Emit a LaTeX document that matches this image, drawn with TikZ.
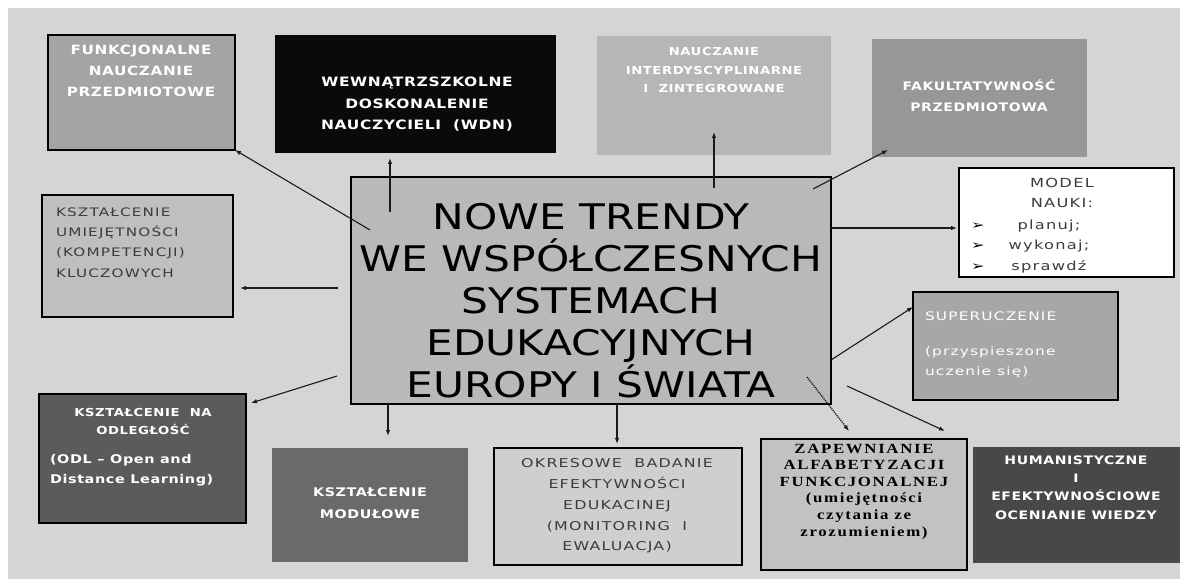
\documentclass[tikz,border=0pt]{standalone}
\usepackage{fontspec}
\usetikzlibrary{calc,arrows.meta}
\setmainfont{DejaVu Sans}
\newfontfamily\ttlfont[FakeStretch=1.2]{DejaVu Sans}
\newfontfamily\bwfont[FakeStretch=1.2,LetterSpace=5]{DejaVu Sans}
\newfontfamily\gwfont[FakeStretch=1.3,LetterSpace=10]{DejaVu Sans}
\newfontfamily\zapfont[FakeStretch=1.2,LetterSpace=12]{Liberation Serif}
\definecolor{bgc}{HTML}{D5D5D5}
\definecolor{cfun}{HTML}{A4A4A4}
\definecolor{cwdn}{HTML}{0A0A0A}
\definecolor{cint}{HTML}{B6B6B6}
\definecolor{cfak}{HTML}{979797}
\definecolor{ckum}{HTML}{BFBFBF}
\definecolor{ccen}{HTML}{B9B9B9}
\definecolor{csup}{HTML}{A7A7A7}
\definecolor{codl}{HTML}{5B5B5B}
\definecolor{cmdl}{HTML}{6A6A6A}
\definecolor{cokr}{HTML}{CFCFCF}
\definecolor{czap}{HTML}{C2C2C2}
\definecolor{chum}{HTML}{484848}
\definecolor{dtxt}{HTML}{3C3C3C}
\definecolor{lnc}{HTML}{1A1A1A}
\tikzset{
  box/.style={anchor=north west, inner sep=0pt, outer sep=0pt, line width=1.2pt},
  bordered/.style={draw=black},
  txt/.style={inner sep=0pt, outer sep=0pt, align=center},
  arr/.style={draw=lnc, line width=1.1pt, -{Latex[length=6pt,width=4.5pt]}},
}
\begin{document}
\begin{tikzpicture}[x=1pt,y=-1pt]
\useasboundingbox (0,0) rectangle (1180,585);
\fill[bgc] (8,8) rectangle (1180,579);

% boxes
\node[box, bordered, fill=cfun, minimum width=187pt, minimum height=115pt] (fun) at (48,35) {};
\node[box, fill=cwdn, minimum width=281pt, minimum height=118pt] (wdn) at (275,35) {};
\node[box, fill=cint, minimum width=234pt, minimum height=119pt] (int) at (597,36) {};
\node[box, fill=cfak, minimum width=215pt, minimum height=118pt] (fak) at (872,39) {};
\node[box, bordered, fill=white, minimum width=215pt, minimum height=109pt] (mod) at (959,168) {};
\node[box, bordered, fill=ckum, minimum width=191pt, minimum height=122pt] (kum) at (42,195) {};
\node[box, bordered, fill=ccen, line width=1.4pt, minimum width=480pt, minimum height=227pt] (cen) at (351,177) {};
\node[box, bordered, fill=csup, minimum width=205pt, minimum height=108pt] (sup) at (913,292) {};
\node[box, bordered, fill=codl, minimum width=207pt, minimum height=129pt] (odl) at (39,394) {};
\node[box, fill=cmdl, minimum width=196pt, minimum height=114pt] (mdl) at (272,448) {};
\node[box, bordered, fill=cokr, minimum width=248pt, minimum height=117pt] (okr) at (494,448) {};
\node[box, bordered, fill=czap, minimum width=206pt, minimum height=131pt] (zap) at (761,439) {};
\node[box, fill=chum, minimum width=207pt, minimum height=116pt] (hum) at (973,447) {};

% texts
\node[txt, text=white, font=\bwfont\bfseries\fontsize{12.7}{21}\selectfont] (tfun) at (141,71)
  {FUNKCJONALNE\\NAUCZANIE\\PRZEDMIOTOWE};
\node[txt, text=white, font=\bwfont\bfseries\fontsize{12.9}{21.5}\selectfont] (twdn) at (417,104.5)
  {WEWNĄTRZSZKOLNE\\DOSKONALENIE\\NAUCZYCIELI~~(WDN)};
\node[txt, text=white, font=\bwfont\bfseries\fontsize{11}{18.5}\selectfont] (tint) at (714,70)
  {NAUCZANIE\\INTERDYSCYPLINARNE\\I~~ZINTEGROWANE};
\node[txt, text=white, font=\bwfont\bfseries\fontsize{11.7}{21}\selectfont] (tfak) at (979,95.5)
  {FAKULTATYWNOŚĆ\\PRZEDMIOTOWA};
\node[txt, text=dtxt, font=\gwfont\fontsize{12.5}{20}\selectfont] (tmod) at (1062,193)
  {MODEL\\NAUKI:};
\node[txt, text=dtxt, anchor=west, font=\gwfont\fontsize{12.5}{20.5}\selectfont] (tlst) at (971,245.5)
  {\begin{tabular}{@{}l@{\hspace{24pt}}c@{}}{\color{black}➢} & planuj;\\ {\color{black}➢} & wykonaj;\\ {\color{black}➢} & sprawdź\end{tabular}};
\node[txt, text=dtxt, anchor=west, align=left, font=\gwfont\fontsize{11.7}{20.3}\selectfont] (tkum) at (56,242.5)
  {KSZTAŁCENIE\\UMIEJĘTNOŚCI\\(KOMPETENCJI)\\KLUCZOWYCH};
\node[txt, text=black, font=\ttlfont\fontsize{35.3}{42}\selectfont] (tcen) at (591,301)
  {NOWE TRENDY\\WE WSPÓŁCZESNYCH\\SYSTEMACH\\EDUKACYJNYCH\\EUROPY I ŚWIATA};
\node[txt, text=white, anchor=west, align=left, font=\gwfont\fontsize{11.8}{20}\selectfont] (tsup) at (925,344.5)
  {SUPERUCZENIE\\[15pt](przyspieszone\\uczenie się)};
\node[txt, text=white, font=\bwfont\bfseries\fontsize{11}{18}\selectfont] (todla) at (143,421)
  {KSZTAŁCENIE~~NA\\ODLEGŁOŚĆ};
\node[txt, text=white, anchor=west, align=left, font=\bwfont\bfseries\fontsize{12}{20}\selectfont] (todlb) at (50,470)
  {(ODL – Open and\\Distance Learning)};
\node[txt, text=white, font=\bwfont\bfseries\fontsize{11.9}{22}\selectfont] (tmdl) at (370,503)
  {KSZTAŁCENIE\\MODUŁOWE};
\node[txt, text=dtxt, font=\gwfont\fontsize{12.2}{20.75}\selectfont] (tokr) at (617,506)
  {OKRESOWE~~BADANIE\\EFEKTYWNOŚCI\\EDUKACINEJ\\(MONITORING~~I\\EWALUACJA)};
\node[txt, text=black, font=\zapfont\bfseries\fontsize{14}{16.6}\selectfont] (tzap) at (864,491.5)
  {ZAPEWNIANIE\\ALFABETYZACJI\\FUNKCJONALNEJ\\(umiejętności\\czytania ze\\zrozumieniem)};
\node[txt, text=white, font=\bwfont\bfseries\fontsize{11.7}{18.3}\selectfont] (thum) at (1076,487.5)
  {HUMANISTYCZNE\\I\\EFEKTYWNOŚCIOWE\\OCENIANIE WIEDZY};

% connector start points
\coordinate (s1) at ($(cen.north west)+(19,53)$);
\coordinate (s2) at ($(cen.north west)+(39,35)$);
\coordinate (s3) at ($(cen.north west)+(363,11)$);
\coordinate (s4) at ($(cen.north east)+(-18,12)$);
\coordinate (s5) at ($(cen.north east)+(0,51)$);
\coordinate (s6) at ($(cen.north west)+(-13,111)$);
\coordinate (s7) at ($(cen.north east)+(0,183)$);
\coordinate (s8) at ($(cen.south west)+(-14,-28)$);
\coordinate (s9) at ($(cen.south west)+(37,0)$);
\coordinate (s10) at ($(cen.south west)+(266,0)$);
\coordinate (s11) at ($(cen.south east)+(-24,-27)$);
\coordinate (s12) at ($(cen.south east)+(16,-18)$);

% connectors
\draw[arr] (s1) -- (fun.south east);
\draw[arr, shorten >=5pt] (s2) -- (s2 |- wdn.south);
\draw[arr, shorten >=-23pt] (s3) -- (s3 |- int.south);
\draw[arr] (s4) -- ($(fak.south west)+(16,-7)$);
\draw[arr, shorten >=2pt] (s5) -- (s5 -| mod.west);
\draw[arr, shorten >=7pt] (s6) -- (s6 -| kum.east);
\draw[arr] (s7) -- ($(sup.north west)+(0,15)$);
\draw[arr] (s8) -- ($(odl.north east)+(5,9)$);
\draw[arr, shorten >=12pt] (s9) -- (s9 |- mdl.north);
\draw[arr, shorten >=4pt] (s10) -- (s10 |- okr.north);
\draw[arr, densely dotted, line width=1.4pt] (s11) -- ($(zap.north west)+(88,-8)$);
\draw[arr] (s12) -- ($(hum.north west)+(-28,-16)$);
\end{tikzpicture}
\end{document}
